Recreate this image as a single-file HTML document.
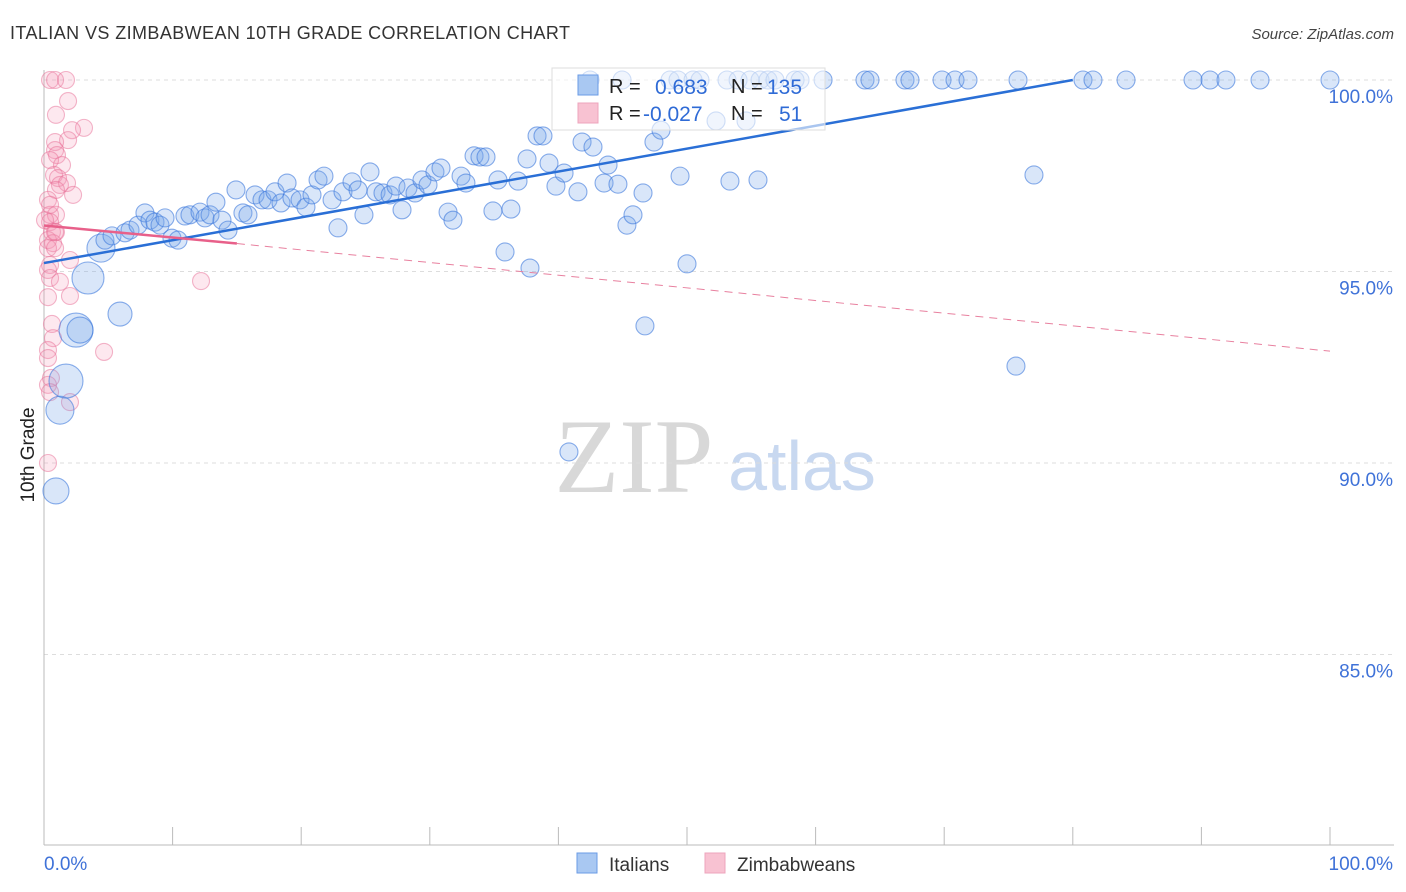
<!DOCTYPE html>
<html><head><meta charset="utf-8"><style>
body{margin:0;background:#fff;font-family:"Liberation Sans",sans-serif;}
#wrap{position:relative;width:1406px;height:892px;overflow:hidden;}
</style></head><body>
<div id="wrap">
<svg id="chart" width="1406" height="892" xmlns="http://www.w3.org/2000/svg">
<text x="10" y="39" font-size="18" fill="#333" textLength="560">ITALIAN VS ZIMBABWEAN 10TH GRADE CORRELATION CHART</text>
<text x="1394" y="39" font-size="15" fill="#444" font-style="italic" text-anchor="end">Source: ZipAtlas.com</text>
<text x="634" y="492" font-size="106" fill="#d8d8d8" font-family="Liberation Serif, serif" text-anchor="middle">ZIP</text>
<text x="802" y="490" font-size="70" fill="#c8d8f0" text-anchor="middle">atlas</text>
<g id="grid"></g><g id="pts"></g><g id="trend"></g>
<text transform="translate(34,455) rotate(-90)" font-size="19" fill="#222" text-anchor="middle">10th Grade</text>
<g>
<rect x="552" y="68" width="273" height="62" fill="#fff" fill-opacity="0.6" stroke="#ddd"/>
<rect x="578" y="75" width="20" height="20" fill="#a9c8f2" stroke="#6a9be6"/>
<rect x="578" y="103" width="20" height="20" fill="#f8c2d2" stroke="#eea4bc"/>
<text x="609" y="93" font-size="20" fill="#222">R = </text><text x="655" y="94" font-size="21" fill="#2f6bd6">0.683</text>
<text x="731" y="93" font-size="20" fill="#222">N = </text><text x="767" y="94" font-size="21" fill="#2f6bd6">135</text>
<text x="609" y="120" font-size="20" fill="#222">R = </text><text x="643" y="121" font-size="21" fill="#2f6bd6">-0.027</text>
<text x="731" y="120" font-size="20" fill="#222">N = </text><text x="779" y="121" font-size="21" fill="#2f6bd6">51</text>
</g>
<g>
<rect x="577" y="853" width="20" height="20" fill="#a9c8f2" stroke="#6a9be6"/>
<text x="609" y="871" font-size="19" fill="#333">Italians</text>
<rect x="705" y="853" width="20" height="20" fill="#f8c2d2" stroke="#eea4bc"/>
<text x="737" y="871" font-size="19" fill="#333">Zimbabweans</text>
</g>
</svg>
</div>
<script>
const yTicks=[100,95,90,85];
const yTickLabels=["100.0%","95.0%","90.0%","85.0%"];
const xTicks=[0,10,20,30,40,50,60,70,80,90,100];
const xEndLabels=["0.0%","100.0%"];
const italiansX=[0.93,1.24,1.71,2.49,2.80,3.42,4.43,5.91,4.74,5.29,6.30,6.69,7.31,7.85,8.24,8.63,9.02,9.41,9.95,10.42,10.96,11.35,12.13,12.52,12.91,13.37,13.84,14.31,14.93,15.47,15.86,16.41,16.95,17.42,17.96,18.43,18.90,19.28,19.91,20.37,20.84,21.31,21.77,22.40,22.86,23.25,23.95,24.42,24.88,25.35,25.82,26.36,26.91,27.37,27.84,28.30,28.85,29.39,29.86,30.40,30.87,31.42,31.80,32.43,32.81,33.44,33.90,34.37,34.91,35.30,35.85,36.31,36.86,37.56,37.79,38.34,38.80,39.27,39.81,40.44,40.82,41.52,41.84,42.69,43.55,43.86,44.63,45.33,45.80,46.58,46.73,47.43,47.98,49.46,50.00,52.26,53.34,54.59,55.52,75.58,76.98,
42.46,44.95,48.68,49.30,50.47,51.01,53.11,53.97,54.90,55.68,56.30,56.84,58.40,58.79,60.58,63.84,64.23,66.95,67.34,69.83,70.84,71.85,75.74,80.79,81.57,84.14,89.35,90.67,91.91,94.56,100];
const italiansY=[89.27,91.38,92.14,93.47,93.47,94.83,95.61,93.89,95.82,95.93,96.01,96.08,96.21,96.53,96.34,96.29,96.21,96.40,95.87,95.82,96.45,96.48,96.55,96.40,96.48,96.81,96.34,96.08,97.13,96.53,96.48,97.00,96.87,96.87,97.08,96.79,97.31,96.92,96.87,96.68,97.00,97.39,97.49,96.87,96.14,97.08,97.34,97.13,96.48,97.60,97.08,97.05,97.00,97.23,96.61,97.18,97.05,97.39,97.26,97.60,97.70,96.55,96.34,97.49,97.31,98.02,97.99,97.99,96.58,97.39,95.51,96.63,97.36,97.94,95.09,98.54,98.54,97.83,97.23,97.57,90.29,97.08,98.38,98.25,97.31,97.78,97.28,96.21,96.48,97.05,93.58,98.38,98.69,97.49,95.20,98.93,97.36,98.93,97.39,92.53,97.52,
100,100,100,100,100,100,100,100,100,100,100,100,100,100,100,100,100,100,100,100,100,100,100,100,100,100,100,100,100,100,100];
const italiansSize=[13,14,17,17,13,16,14,12];
const zimX=[0.47,0.86,1.71,1.87,0.93,3.11,2.18,1.87,0.86,0.86,1.01,0.47,1.40,0.78,1.09,1.24,1.79,0.93,2.26,0.31,0.47,0.93,0.47,0.62,0.93,0.31,0.70,0.86,0.31,0.47,2.02,0.31,0.47,1.24,0.31,2.02,0.62,0.70,0.31,4.67,0.31,0.54,0.31,0.47,2.02,0.31,12.21,0.86,0.08,0.47];
const zimY=[100,100,100,99.45,99.09,98.75,98.69,98.43,98.38,98.17,98.04,97.91,97.78,97.52,97.44,97.26,97.31,97.13,97.00,96.87,96.48,96.48,96.29,96.03,96.03,95.82,95.74,96.03,95.61,95.17,95.30,95.04,94.83,94.73,94.33,94.36,93.63,93.26,92.95,92.90,92.74,92.22,92.04,91.85,91.59,90.00,94.75,95.61,96.34,96.74];
const italiansTrendX=[0,80];
const italiansTrendY=[95.22,100];
const zimTrendX=[0,15,100];
const zimTrendY=[96.2,95.73,92.92];

const NS="http://www.w3.org/2000/svg";
const X0=44,X1=1330,Y100=80,PXPER=38.3;
function sx(v){return X0+(X1-X0)*v/100;}
function sy(v){return Y100+(100-v)*PXPER;}
function mk(tag,attrs,parent){const e=document.createElementNS(NS,tag);for(const k in attrs)e.setAttribute(k,attrs[k]);parent.appendChild(e);return e;}
const grid=document.getElementById('grid');
yTicks.forEach((t,i)=>{
  const l=mk('line',{x1:X0,x2:1394,y1:sy(t),y2:sy(t),stroke:'#ddd','stroke-dasharray':'4,4'},grid);
  
  
  const tx=mk('text',{x:1393,y:sy(t)+23,'font-size':19,fill:'#3f72d8','text-anchor':'end'},grid);
  tx.textContent=yTickLabels[i];
  
  
});
const ax=mk('line',{x1:X0,x2:X0,y1:70,y2:845,stroke:'#bbb'},grid);


const bx=mk('line',{x1:X0,x2:1394,y1:845,y2:845,stroke:'#bbb'},grid);


xTicks.forEach(t=>{
  const l=mk('line',{x1:sx(t),x2:sx(t),y1:827,y2:845,stroke:'#bbb'},grid);
  
  
});
const xl0=mk('text',{x:44,y:870,'font-size':19,fill:'#3f72d8'},grid);xl0.textContent=xEndLabels[0];


const xl1=mk('text',{x:1393,y:870,'font-size':19,fill:'#3f72d8','text-anchor':'end'},grid);xl1.textContent=xEndLabels[1];



const pts=document.getElementById('pts');
zimX.forEach((x,i)=>{
  const c=mk('circle',{cx:sx(x),cy:sy(zimY[i]),r:8.5,fill:'rgba(245,150,180,0.22)',stroke:'rgba(232,110,150,0.5)','stroke-width':1.1},pts);
  
  
});
italiansX.forEach((x,i)=>{
  const r=i<italiansSize.length?italiansSize[i]:9;
  const c=mk('circle',{cx:sx(x),cy:sy(italiansY[i]),r:r,fill:'rgba(120,165,235,0.28)',stroke:'rgba(60,120,220,0.6)','stroke-width':1.1},pts);
  
  
});
const tr=document.getElementById('trend');
const bl=mk('line',{x1:sx(italiansTrendX[0]),y1:sy(italiansTrendY[0]),x2:sx(italiansTrendX[1]),y2:sy(italiansTrendY[1]),stroke:'#2a6fd6','stroke-width':2.5},tr);


const pl=mk('line',{x1:sx(zimTrendX[0]),y1:sy(zimTrendY[0]),x2:sx(zimTrendX[1]),y2:sy(zimTrendY[1]),stroke:'#e8608a','stroke-width':2.5},tr);


const pd=mk('line',{x1:sx(zimTrendX[1]),y1:sy(zimTrendY[1]),x2:sx(zimTrendX[2]),y2:sy(zimTrendY[2]),stroke:'#e8809f','stroke-width':1,'stroke-dasharray':'8,6'},tr);


</script>
</body></html>
